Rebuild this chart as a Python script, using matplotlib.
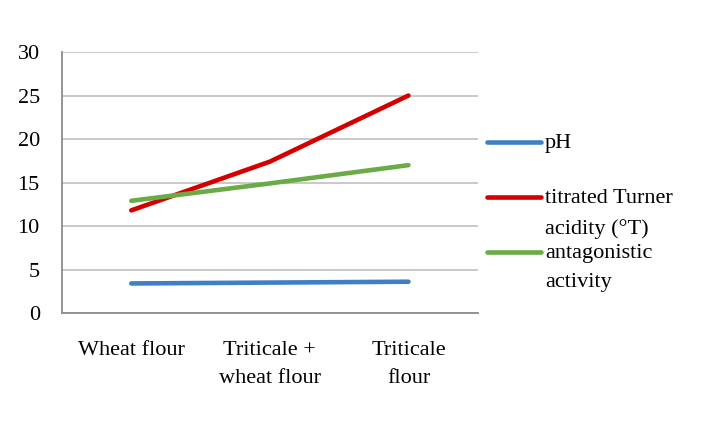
import matplotlib.pyplot as plt
from matplotlib.lines import Line2D

plt.rcParams['font.family'] = ['Liberation Serif', 'DejaVu Serif']

categories = ['Wheat flour', 'Triticale +\nwheat flour', 'Triticale\nflour']
ph = [3.4, 3.5, 3.6]
turner_acidity = [11.8, 17.4, 25.0]
antagonistic = [12.9, 14.9, 17.0]

series = [
    ('pH', ph, '#3f7fc4'),
    ('titrated Turner\nacidity (°T)', turner_acidity, '#d40000'),
    ('antagonistic\nactivity', antagonistic, '#6aab45'),
]

fs = 16

fig = plt.figure(figsize=(7.07, 4.30), dpi=100)
ax = fig.add_axes([0.0877, 0.272, 0.588, 0.607])

x = range(len(categories))
for label, vals, color in series:
    ax.plot(x, vals, color=color, lw=3.3, solid_capstyle='round')

ax.set_xlim(-0.5, len(categories) - 0.5)
ax.set_ylim(0, 30)
ax.set_yticks(range(0, 31, 5))
ax.set_xticks(list(x))
ax.set_xticklabels(categories, fontsize=fs, linespacing=1.65)
ax.tick_params(axis='y', labelsize=fs, length=0, pad=16)
ax.tick_params(axis='x', length=0, pad=20)
ax.grid(axis='y', color='#c0c0c0', lw=1.2)
ax.set_axisbelow(True)
for side in ['top', 'right']:
    ax.spines[side].set_visible(False)
for side in ['left', 'bottom']:
    ax.spines[side].set_color('#8c8c8c')
    ax.spines[side].set_linewidth(1.3)

# legend drawn by hand to the right of the plot
legend_y = [142, 197, 252]
for (label, vals, color), yp in zip(series, legend_y):
    yf = 1 - yp / 430
    fig.add_artist(Line2D([487 / 707, 541 / 707], [yf, yf], color=color, lw=3.3,
                          solid_capstyle='round', transform=fig.transFigure))
    fig.text(545 / 707, 1 - (yp - 8) / 430, label, fontsize=fs, va='top',
             ha='left', linespacing=1.75)

fig.savefig('out.png', dpi=100)
